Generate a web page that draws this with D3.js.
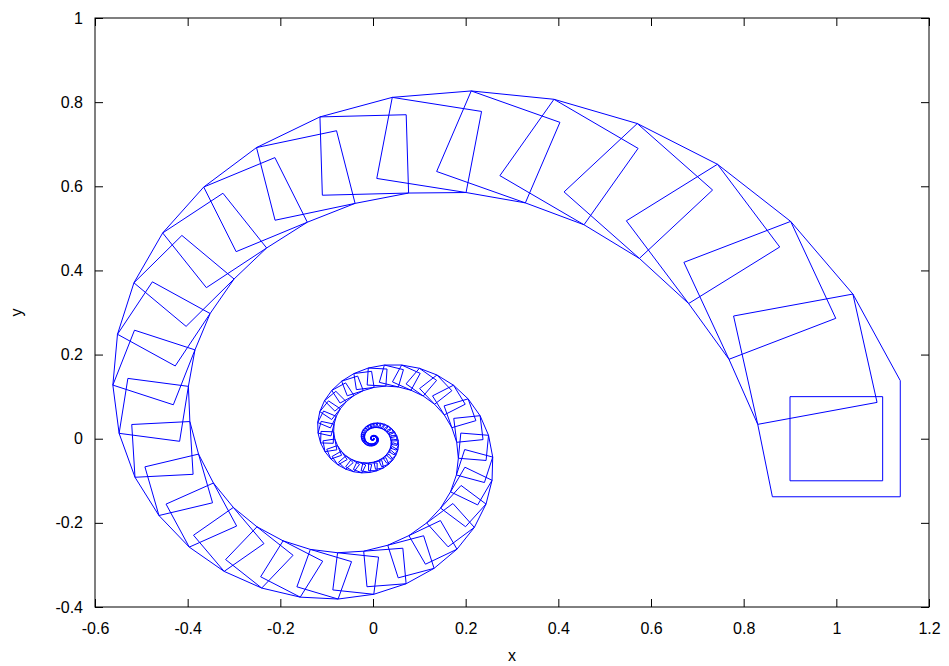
<!DOCTYPE html>
<html>
<head>
<meta charset="utf-8">
<script src="https://cdn.jsdelivr.net/npm/d3@7"></script>
<style>
  body { margin: 0; background: #fff; }
  text { font-family: "Liberation Sans", Arial, sans-serif; font-size: 16px; fill: #000; }
</style>
</head>
<body>
<div id="chart"></div>
<script>
// tick values
var xTicks = [-0.6, -0.4, -0.2, 0, 0.2, 0.4, 0.6, 0.8, 1, 1.2];
var yTicks = [-0.4, -0.2, 0, 0.2, 0.4, 0.6, 0.8, 1];

// the small starting square, drawn once
var startSquare = [[0.9, -0.1], [1.1, -0.1], [1.1, 0.1], [0.9, 0.1]];
// first outer square, corners bottom-left, bottom-right, top-right, top-left
var outerSquare = [[0.862, -0.138], [1.138, -0.138], [1.138, 0.138], [0.862, 0.138]];
// every step turns (degrees) and shrinks the piece about the origin
var stepAngle = 11.45;
var stepScale = 0.952;
var stepCount = 130;

var svgWidth = 949;
var svgHeight = 666;
var margin = { top: 18, right: 20, bottom: 59, left: 95 };
var width = svgWidth - margin.left - margin.right;
var height = svgHeight - margin.top - margin.bottom;

var svg = d3.select("#chart")
  .append("svg")
  .attr("width", svgWidth)
  .attr("height", svgHeight);

var chartGroup = svg.append("g")
  .attr("transform", `translate(${margin.left}, ${margin.top})`);

var xScale = d3.scaleLinear().domain([-0.6, 1.2]).range([0, width]);
var yScale = d3.scaleLinear().domain([-0.4, 1]).range([height, 0]);

// turn + shrink a point n times
function step(p, n) {
  var a = stepAngle * n * Math.PI / 180;
  var s = Math.pow(stepScale, n);
  return [s * (p[0] * Math.cos(a) - p[1] * Math.sin(a)),
          s * (p[0] * Math.sin(a) + p[1] * Math.cos(a))];
}

// hexagon joining one outer square to the next one
var bl = outerSquare[0], br = outerSquare[1], tr = outerSquare[2], tl = outerSquare[3];
var baseHex = [bl, br, tr, step(tr, 1), step(tl, 1), step(bl, 1)];

var hexes = d3.range(stepCount).map(function(k) {
  return baseHex.map(function(p) { return step(p, k); });
});

var line = d3.line()
  .x(d => xScale(d[0]))
  .y(d => yScale(d[1]))
  .curve(d3.curveLinearClosed);

chartGroup.selectAll(".hex")
  .data(hexes)
  .enter()
  .append("path")
  .attr("class", "hex")
  .attr("d", line)
  .attr("fill", "none")
  .attr("stroke", "#0000ff")
  .attr("stroke-width", 1);

chartGroup.append("path")
  .attr("d", line(startSquare))
  .attr("fill", "none")
  .attr("stroke", "#0000ff")
  .attr("stroke-width", 1);

// axes, ticks pointing inwards on all four sides
var fmt = d => String(d);

chartGroup.append("g")
  .attr("transform", `translate(0, ${height})`)
  .call(d3.axisBottom(xScale).tickValues(xTicks).tickSize(-8).tickPadding(16).tickFormat(fmt));

chartGroup.append("g")
  .call(d3.axisTop(xScale).tickValues(xTicks).tickSize(-8).tickFormat(""));

chartGroup.append("g")
  .call(d3.axisLeft(yScale).tickValues(yTicks).tickSize(-8).tickPadding(12).tickFormat(fmt));

chartGroup.append("g")
  .attr("transform", `translate(${width}, 0)`)
  .call(d3.axisRight(yScale).tickValues(yTicks).tickSize(-8).tickFormat(""));

chartGroup.selectAll(".domain").remove();
chartGroup.selectAll(".tick line").attr("stroke", "#000");
chartGroup.selectAll(".tick text")
  .style("font-family", '"Liberation Sans", Arial, sans-serif')
  .style("font-size", "16px")
  .attr("fill", "#000");

chartGroup.append("rect")
  .attr("width", width)
  .attr("height", height)
  .attr("fill", "none")
  .attr("stroke", "#000")
  .attr("stroke-width", 1);

// axis titles
chartGroup.append("text")
  .attr("x", width / 2)
  .attr("y", height + 54)
  .attr("text-anchor", "middle")
  .text("x");

chartGroup.append("text")
  .attr("transform", "rotate(-90)")
  .attr("x", -height / 2)
  .attr("y", -73)
  .attr("text-anchor", "middle")
  .text("y");
</script>
</body>
</html>
